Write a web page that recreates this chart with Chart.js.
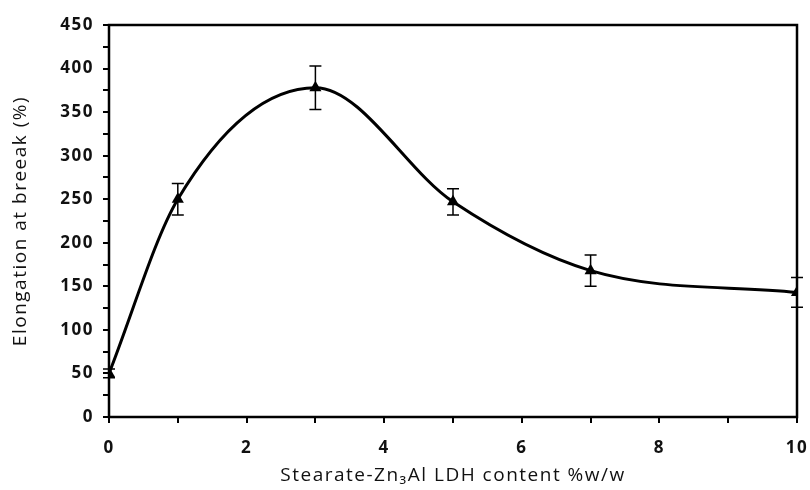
<!DOCTYPE html>
<html>
<head>
<meta charset="utf-8">
<script src="https://cdn.jsdelivr.net/npm/chart.js@4.4.0/dist/chart.umd.min.js"></script>
<style>
  html, body { margin: 0; padding: 0; background: #fff; }
  #wrap { width: 810px; height: 490px; }
</style>
</head>
<body>
<div id="wrap"><canvas id="chart"></canvas></div>
<script>
// data
const contents = [0, 1, 3, 5, 7, 10];
const elongation = [50, 250, 378, 247, 168, 143];
const errors = [5, 18, 25, 15, 18, 17];

// the original text is widely spaced, so add some letter spacing
const spacing = {
    id: 'spacing',
    beforeUpdate(chart) { chart.ctx.letterSpacing = '1.5px'; },
    beforeDraw(chart) { chart.ctx.letterSpacing = '1.5px'; }
};

const errorBars = {
    id: 'errorBars',
    afterDatasetsDraw(chart) {
        const ctx = chart.ctx;
        const x = chart.scales.x, y = chart.scales.y;
        ctx.save();
        ctx.strokeStyle = '#000';
        ctx.lineWidth = 1.5;
        contents.forEach((c, i) => {
            const px = x.getPixelForValue(c);
            const top = y.getPixelForValue(elongation[i] + errors[i]);
            const bot = y.getPixelForValue(elongation[i] - errors[i]);
            ctx.beginPath();
            ctx.moveTo(px, top); ctx.lineTo(px, bot);
            ctx.moveTo(px - 6, top); ctx.lineTo(px + 6, top);
            ctx.moveTo(px - 6, bot); ctx.lineTo(px + 6, bot);
            ctx.stroke();
        });
        ctx.restore();
    }
};

const frame = {
    id: 'frame',
    beforeDatasetsDraw(chart) {
        const a = chart.chartArea, ctx = chart.ctx;
        ctx.save();
        ctx.strokeStyle = '#000';
        ctx.lineWidth = 2.5;
        ctx.strokeRect(a.left, a.top, a.right - a.left, a.bottom - a.top);
        ctx.restore();
    }
};

document.addEventListener('DOMContentLoaded', function () {
    const ctx = document.getElementById('chart').getContext('2d');
    new Chart(ctx, {
        type: 'line',
        data: {
            datasets: [{
                data: contents.map((c, i) => ({ x: c, y: elongation[i] })),
                borderColor: '#000',
                backgroundColor: '#000',
                borderWidth: 3,
                cubicInterpolationMode: 'monotone',
                pointStyle: 'triangle',
                pointRadius: 7,
                pointBorderWidth: 0
            }]
        },
        options: {
            responsive: true,
            maintainAspectRatio: false,
            animation: false,
            layout: { padding: { top: 25, right: 13, left: 0, bottom: 0 } },
            plugins: { legend: { display: false }, tooltip: { enabled: false } },
            scales: {
                x: {
                    type: 'linear',
                    min: 0, max: 10,
                    afterFit: function (s) { s.height = 73; s.paddingLeft = 0; s.paddingRight = 0; },
                    border: { display: false },
                    grid: { drawOnChartArea: false, color: '#000', lineWidth: 2, tickLength: 6 },
                    ticks: {
                        stepSize: 1,
                        color: '#111',
                        padding: 15,
                        maxRotation: 0,
                        autoSkip: false,
                        font: { family: 'Open Sans', size: 17, weight: 'bold' },
                        callback: function (v) { return v % 2 === 0 ? v : ''; }
                    },
                    title: {
                        display: true,
                        text: 'Stearate-Zn₃Al LDH content %w/w',
                        color: '#111',
                        padding: { top: 4, bottom: 3 },
                        font: { family: 'Open Sans', size: 19 }
                    }
                },
                y: {
                    min: 0, max: 450,
                    afterFit: function (s) { s.width = 109; s.paddingTop = 0; s.paddingBottom = 0; },
                    border: { display: false },
                    grid: { drawOnChartArea: false, color: '#000', lineWidth: 2, tickLength: 6 },
                    ticks: {
                        stepSize: 25,
                        color: '#111',
                        padding: 9,
                        autoSkip: false,
                        font: { family: 'Open Sans', size: 17, weight: 'bold' },
                        callback: function (v) { return v % 50 === 0 ? v : ''; }
                    },
                    title: {
                        display: true,
                        text: 'Elongation at breeak (%)',
                        color: '#111',
                        padding: { top: 9, bottom: 4 },
                        font: { family: 'Open Sans', size: 19 }
                    }
                }
            }
        },
        plugins: [spacing, frame, errorBars]
    });
});
</script>
</body>
</html>
